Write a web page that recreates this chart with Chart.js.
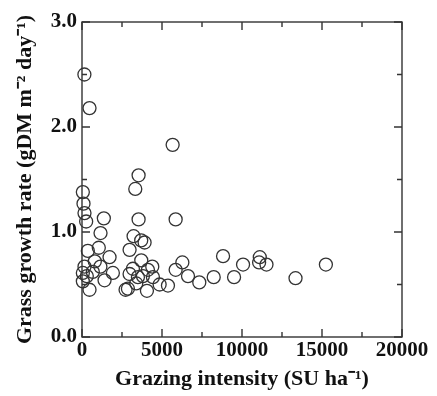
<!DOCTYPE html>
<html>
<head>
<meta charset="utf-8">
<script src="https://cdn.jsdelivr.net/npm/chart.js@4"></script>
<style>
  body { margin: 0; background: #fff; }
  canvas { display: block; }
</style>
</head>
<body>
<canvas id="grazingChart" width="437" height="396"></canvas>
<script>
// grazing intensity (SU/ha) and grass growth rate (gDM m-2 day-1)
const grazingIntensity = [
  150, 470, 5665, 3537, 3330, 53, 94, 156, 260, 1365, 3537, 5853, 1158,
  365, 1050, 1722, 156, 1150, 53, 676, 1930, 53, 1409, 470, 300, 800,
  2974, 3700, 3224, 3912, 3704, 3182, 4392, 2974, 3808, 4434, 3391, 4852,
  5372, 2723, 4058, 3495, 4120, 2870,
  5853, 6272, 6625, 7330, 8232, 8816, 9504, 10066, 11112, 11070, 11530, 13345, 15243
];
const growthRate = [
  2.50, 2.18, 1.83, 1.54, 1.41, 1.38, 1.27, 1.18, 1.10, 1.13, 1.12, 1.12, 0.99,
  0.82, 0.85, 0.76, 0.67, 0.67, 0.61, 0.62, 0.61, 0.53, 0.54, 0.45, 0.58, 0.72,
  0.83, 0.92, 0.96, 0.90, 0.73, 0.65, 0.67, 0.60, 0.58, 0.57, 0.51, 0.50,
  0.49, 0.45, 0.44, 0.57, 0.64, 0.46,
  0.64, 0.71, 0.58, 0.52, 0.57, 0.77, 0.57, 0.69, 0.76, 0.71, 0.69, 0.56, 0.69
];
const xTicks = [0, 5000, 10000, 15000, 20000];
const yTicks = [0, 1, 2, 3];

const serif = "'Liberation Serif', 'Times New Roman', serif";
const ink = '#333';

const points = grazingIntensity.map((x, i) => ({ x: x, y: growthRate[i] }));

// frame + ticks pointing inward on all four sides
const innerTicks = {
  id: 'innerTicks',
  afterDraw(chart) {
    const { ctx, chartArea: a, scales: { x, y } } = chart;
    ctx.save();
    ctx.strokeStyle = ink;
    ctx.lineWidth = 1.4;
    ctx.strokeRect(a.left, a.top, a.right - a.left, a.bottom - a.top);
    ctx.beginPath();
    x.ticks.forEach(t => {
      const px = x.getPixelForValue(t.value);
      const len = xTicks.includes(t.value) ? 8 : 5;
      ctx.moveTo(px, a.bottom); ctx.lineTo(px, a.bottom - len);
      ctx.moveTo(px, a.top); ctx.lineTo(px, a.top + len);
    });
    y.ticks.forEach(t => {
      const py = y.getPixelForValue(t.value);
      const len = yTicks.includes(t.value) ? 8 : 5;
      ctx.moveTo(a.left, py); ctx.lineTo(a.left + len, py);
      ctx.moveTo(a.right, py); ctx.lineTo(a.right - len, py);
    });
    ctx.stroke();
    ctx.restore();
  }
};

new Chart(document.getElementById('grazingChart'), {
  type: 'scatter',
  data: {
    datasets: [{
      data: points,
      pointRadius: 6.5,
      pointHoverRadius: 6.5,
      borderWidth: 1.3,
      borderColor: ink,
      backgroundColor: 'rgba(255,255,255,0)',
      clip: false
    }]
  },
  options: {
    responsive: false,
    animation: false,
    layout: { padding: { top: 22, right: 35, left: 0, bottom: 0 } },
    plugins: { legend: { display: false }, tooltip: { enabled: false } },
    scales: {
      x: {
        type: 'linear',
        min: 0, max: 20000,
        grid: { display: false, drawTicks: false },
        border: { display: false },
        afterFit: s => { s.height = 59; },
        ticks: {
          stepSize: 2500,
          autoSkip: false,
          maxRotation: 0,
          padding: 1,
          color: '#111',
          font: { family: serif, size: 21, weight: 'bold' },
          callback: v => xTicks.includes(v) ? String(v) : ''
        },
        title: {
          display: true,
          text: 'Grazing intensity (SU ha\u207B\u00B9)',
          color: '#111',
          padding: { top: 0, bottom: 3 },
          font: { family: serif, size: 22, weight: 'bold' }
        }
      },
      y: {
        type: 'linear',
        min: 0, max: 3,
        grid: { display: false, drawTicks: false },
        border: { display: false },
        afterFit: s => { s.width = 82; },
        ticks: {
          stepSize: 0.5,
          autoSkip: false,
          padding: 5,
          color: '#111',
          font: { family: serif, size: 21, weight: 'bold' },
          callback: v => yTicks.includes(v) ? v.toFixed(1) : ''
        },
        title: {
          display: true,
          text: 'Grass growth rate (gDM m\u207B\u00B2 day\u207B\u00B9)',
          color: '#111',
          padding: { top: 12, bottom: 0 },
          font: { family: serif, size: 22, weight: 'bold' }
        }
      }
    }
  },
  plugins: [innerTicks]
});
</script>
</body>
</html>
